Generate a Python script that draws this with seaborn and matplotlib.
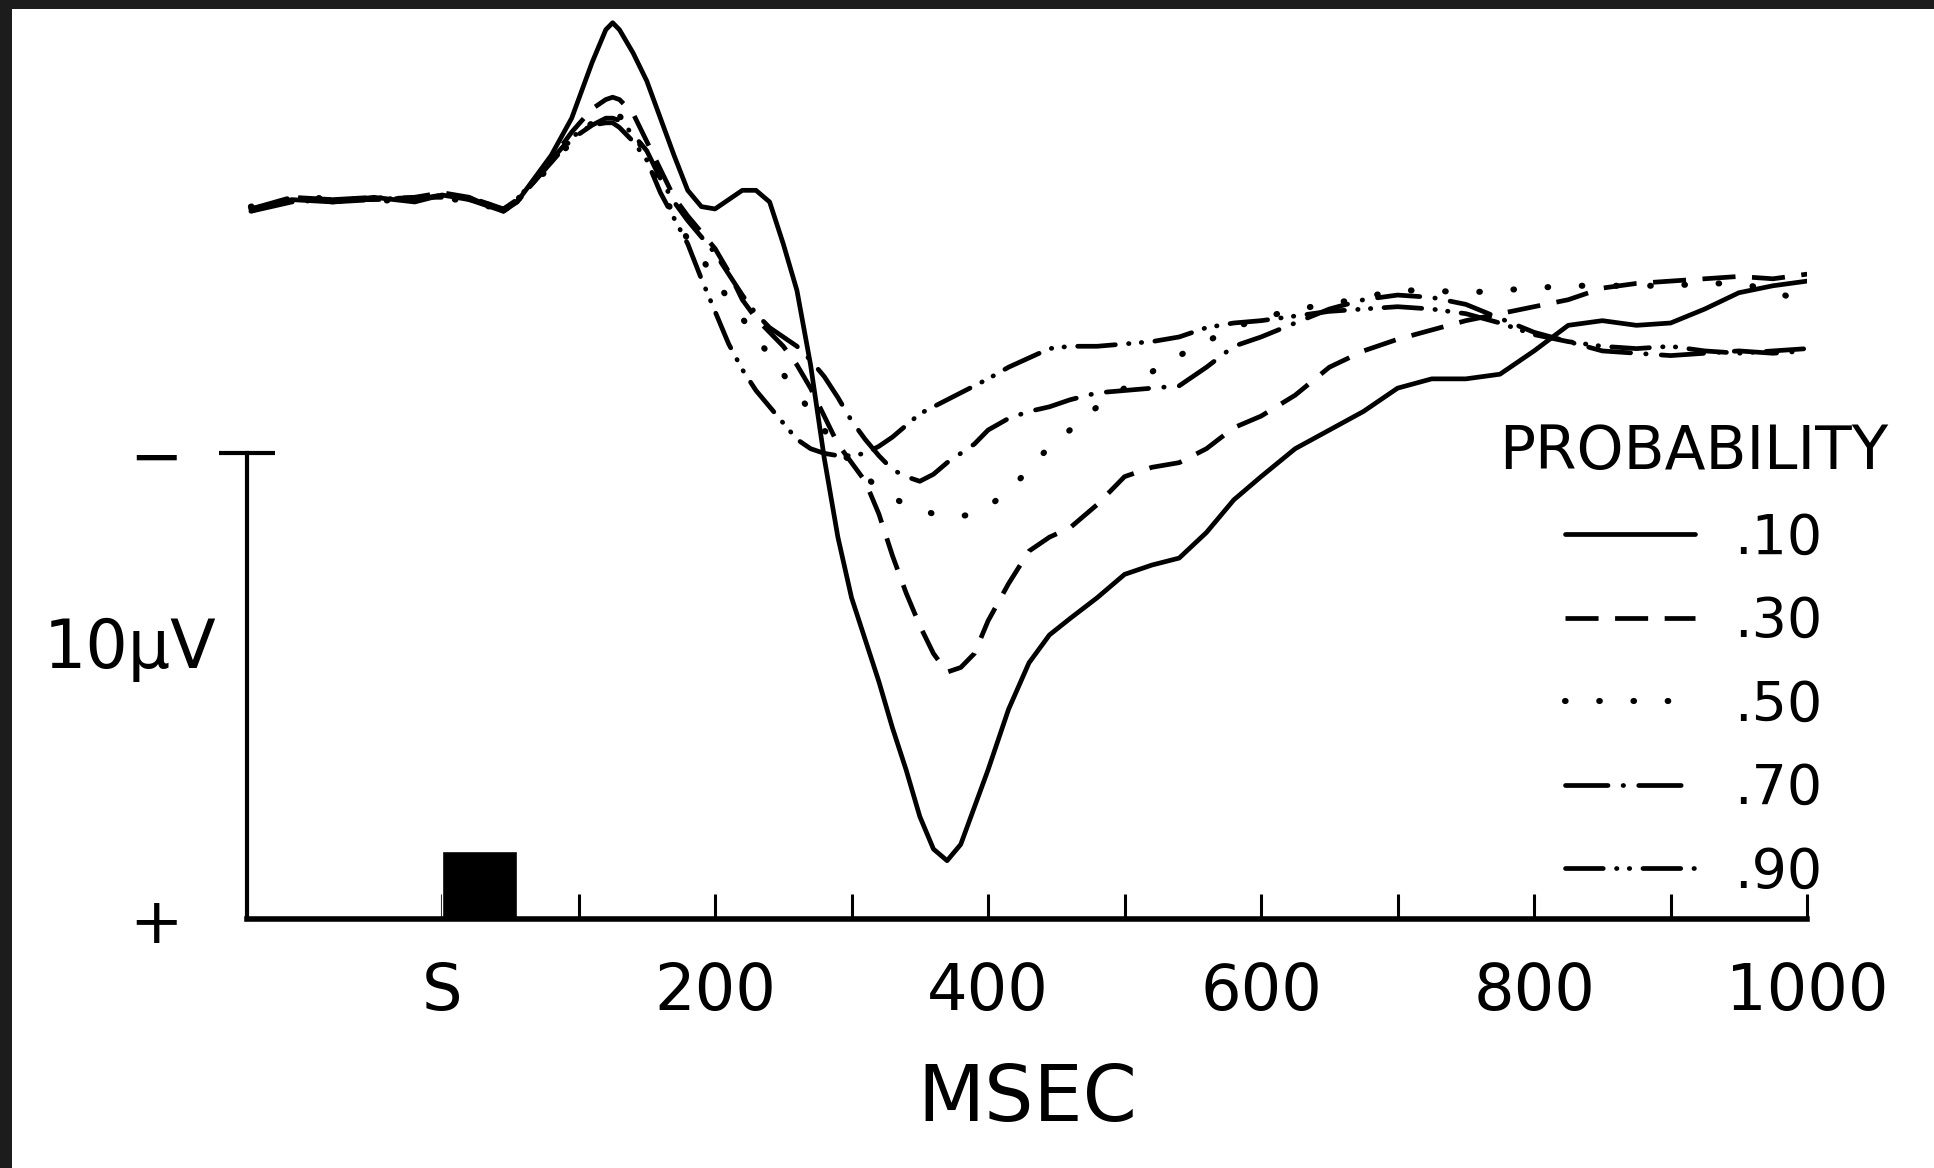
import matplotlib
matplotlib.use("Agg")
import matplotlib.pyplot as plt
import seaborn as sns
from matplotlib.patches import Rectangle

# time after stimulus onset (ms)
time_ms = [-140, -110, -80, -50, -20, 0, 20, 35, 45, 55, 65, 80, 95,
           110, 120, 125, 130, 140,
           150, 160, 170, 180, 190, 200, 210, 220, 230, 240, 250, 260, 270,
           280, 290, 300, 310, 320, 330, 340, 350, 360, 370, 380, 390, 400,
           415, 430, 445, 460,
           480, 500, 520, 540, 560, 580, 600,
           625, 650, 675, 700, 725, 750, 775, 800, 825, 850, 875, 900, 925,
           950, 975, 1000]

# amplitude in microvolts (negative plotted up)
p10 = [0.25, 0.05, 0.1, 0.0, 0.1, -0.05, 0.05, 0.15, 0.3, 0.1, -0.3, -0.9, -1.7,
       -2.9, -3.6, -3.75, -3.6, -3.1,
       -2.5, -1.7, -0.9, -0.15, 0.2, 0.25, 0.05, -0.15, -0.15, 0.1, 1.0, 2.0, 3.6,
       5.6, 7.3, 8.6, 9.5, 10.4, 11.4, 12.3, 13.3, 14.0, 14.25, 13.9, 13.1, 12.3,
       11.0, 10.0, 9.4, 9.05,
       8.6, 8.1, 7.9, 7.75, 7.2, 6.5, 6.0,
       5.4, 5.0, 4.6, 4.1, 3.9, 3.9, 3.8, 3.3, 2.75, 2.65, 2.75, 2.7, 2.4,
       2.05, 1.9, 1.8]
p30 = [0.3, 0.0, 0.05, 0.05, 0.0, -0.1, 0.0, 0.2, 0.25, 0.1, -0.25, -0.8, -1.4,
       -1.9, -2.1, -2.15, -2.1, -1.8,
       -1.2, -0.6, 0.0, 0.4, 0.75, 1.1, 1.6, 2.2, 2.6, 2.9, 3.2, 3.6, 4.1,
       4.7, 5.3, 5.7, 6.1, 6.8, 7.7, 8.5, 9.2, 9.8, 10.2, 10.1, 9.8, 9.1,
       8.3, 7.6, 7.3, 7.1,
       6.6, 6.0, 5.8, 5.7, 5.4, 4.95, 4.7,
       4.25, 3.65, 3.3, 3.05, 2.85, 2.65, 2.5, 2.35, 2.2, 1.95, 1.85, 1.8, 1.75,
       1.7, 1.75, 1.65]
p50 = [0.2, 0.05, 0.0, 0.1, 0.0, 0.0, 0.1, 0.2, 0.25, 0.05, -0.2, -0.7, -1.2,
       -1.6, -1.8, -1.8, -1.75, -1.4,
       -0.9, -0.2, 0.4, 0.9, 1.3, 1.75, 2.2, 2.6, 3.0, 3.4, 3.8, 4.2, 4.6,
       5.0, 5.4, 5.7, 6.0, 6.25, 6.45, 6.6, 6.7, 6.8, 6.85, 6.85, 6.8, 6.65,
       6.3, 5.85, 5.35, 5.0,
       4.5, 4.1, 3.75, 3.4, 3.1, 2.8, 2.6,
       2.4, 2.3, 2.15, 2.0, 2.0, 2.05, 2.0, 1.95, 1.9, 1.9, 1.9, 1.9, 1.85,
       1.85, 2.0, 2.3]
p70 = [0.3, 0.1, 0.05, 0.0, 0.05, -0.05, 0.05, 0.2, 0.3, 0.1, -0.25, -0.75, -1.25,
       -1.55, -1.7, -1.7, -1.65, -1.35,
       -1.0, -0.4, 0.1, 0.5, 0.85, 1.2, 1.65, 2.1, 2.5, 2.8, 3.0, 3.2, 3.5,
       3.85, 4.3, 4.8, 5.2, 5.55, 5.85, 6.0, 6.1, 5.95, 5.7, 5.5, 5.3, 5.0,
       4.75, 4.6, 4.5, 4.35,
       4.2, 4.15, 4.1, 4.05, 3.65, 3.2, 3.0,
       2.7, 2.4, 2.2, 2.1, 2.15, 2.3, 2.6, 2.9, 3.1, 3.3, 3.35, 3.4, 3.35,
       3.3, 3.35, 3.3]
p90 = [0.25, 0.0, 0.1, 0.05, 0.0, 0.0, 0.0, 0.15, 0.25, 0.05, -0.3, -0.8, -1.3,
       -1.55, -1.6, -1.6, -1.5, -1.2,
       -0.8, -0.1, 0.45, 1.0, 1.75, 2.45, 3.15, 3.7, 4.15, 4.5, 4.85, 5.2, 5.4,
       5.5, 5.55, 5.55, 5.5, 5.35, 5.15, 4.9, 4.65, 4.5, 4.35, 4.2, 4.05, 3.9,
       3.65, 3.45, 3.25, 3.2,
       3.2, 3.15, 3.1, 3.0, 2.8, 2.7, 2.65,
       2.55, 2.45, 2.4, 2.35, 2.4, 2.5, 2.7, 2.95, 3.1, 3.2, 3.25, 3.2, 3.3,
       3.35, 3.3, 3.25]

probabilities = [".10", ".30", ".50", ".70", ".90"]
series = [p10, p30, p50, p70, p90]

stim_onset = 0
stim_duration = 55
stim_top = 14.05
axis_level = 15.5
scale_top = 5.5  # 10 microvolt calibration bar

x_ticks = [0, 200, 400, 600, 800, 1000]
x_tick_labels = ["S", "200", "400", "600", "800", "1000"]
x_minor = [100, 300, 500, 700, 900]

sns.set_theme(style="white")
plt.rcParams["font.family"] = ["DejaVu Sans"]
plt.rcParams["text.color"] = "black"
plt.rcParams["legend.labelcolor"] = "black"

fig = plt.figure(figsize=(19.34, 11.68), dpi=100)
ax = fig.add_axes([0.1276, 0.2133, 0.8068, 0.7772])

styles = {
    ".10": dict(linestyle="-", lw=3.4),
    ".30": dict(linestyle=(0, (7, 3.5)), lw=3.4),
    ".50": dict(linestyle=(0, (0.1, 5.5)), lw=4.4, dash_capstyle="round"),
    ".70": dict(linestyle=(0, (9, 3.2, 0.1, 3.2)), lw=3.4, dash_capstyle="round"),
    ".90": dict(linestyle=(0, (8, 2.8, 0.1, 2.6, 0.1, 2.8)), lw=3.4, dash_capstyle="round"),
}

handles = []
for label, vals in zip(probabilities, series):
    sns.lineplot(x=time_ms, y=vals, ax=ax, color="black", sort=False,
                 estimator=None, zorder=3, **styles[label])
    handles.append(ax.get_lines()[-1])

ax.bar([stim_onset], [axis_level - stim_top], width=stim_duration,
       bottom=stim_top, align="edge", color="black", zorder=2)

ax.set_xlim(-143, 1000)
ax.set_ylim(axis_level, -4)

ax.spines["top"].set_visible(False)
ax.spines["right"].set_visible(False)
ax.spines["bottom"].set_linewidth(4)
ax.spines["left"].set_linewidth(3)
ax.spines["bottom"].set_color("black")
ax.spines["left"].set_color("black")
ax.spines["left"].set_bounds(scale_top, axis_level)

ax.set_xticks(x_ticks)
ax.set_xticklabels(x_tick_labels)
ax.set_xticks(x_minor, minor=True)
ax.tick_params(axis="x", which="both", bottom=True, direction="in", length=18,
               width=2.2, color="black", pad=30, labelsize=46, labelcolor="black")

ax.set_yticks([scale_top, axis_level])
ax.set_yticklabels(["\u2212", "+"])
ax.tick_params(axis="y", left=True, direction="inout", length=40, width=3,
               color="black", pad=26, labelsize=46, labelcolor="black")
ax.yaxis.get_major_ticks()[1].tick1line.set_visible(False)

ax.set_xlabel("MSEC", fontsize=56, labelpad=28, color="black")
ax.set_ylabel("10\u03bcV", rotation=0, fontsize=48, ha="center", va="center",
              color="black")
ax.yaxis.set_label_coords(-0.075, 0.297)

leg = ax.legend(handles, probabilities, title="PROBABILITY", loc="upper right",
                bbox_to_anchor=(1.052, 0.546), frameon=False, fontsize=40,
                title_fontsize=43, handlelength=2.35, handletextpad=0.7,
                labelspacing=0.53, borderpad=0, borderaxespad=0)
leg.get_title().set_color("black")
for txt in leg.get_texts():
    txt.set_color("black")

# dark scan border at top and left
fig.add_artist(Rectangle((0, 1 - 9 / 1168), 1, 9 / 1168, transform=fig.transFigure,
                         facecolor="#1c1c1c", edgecolor="none"))
fig.add_artist(Rectangle((0, 0), 12 / 1934, 1, transform=fig.transFigure,
                         facecolor="#1c1c1c", edgecolor="none"))

fig.savefig("out.png", dpi=100)
plt.close(fig)
